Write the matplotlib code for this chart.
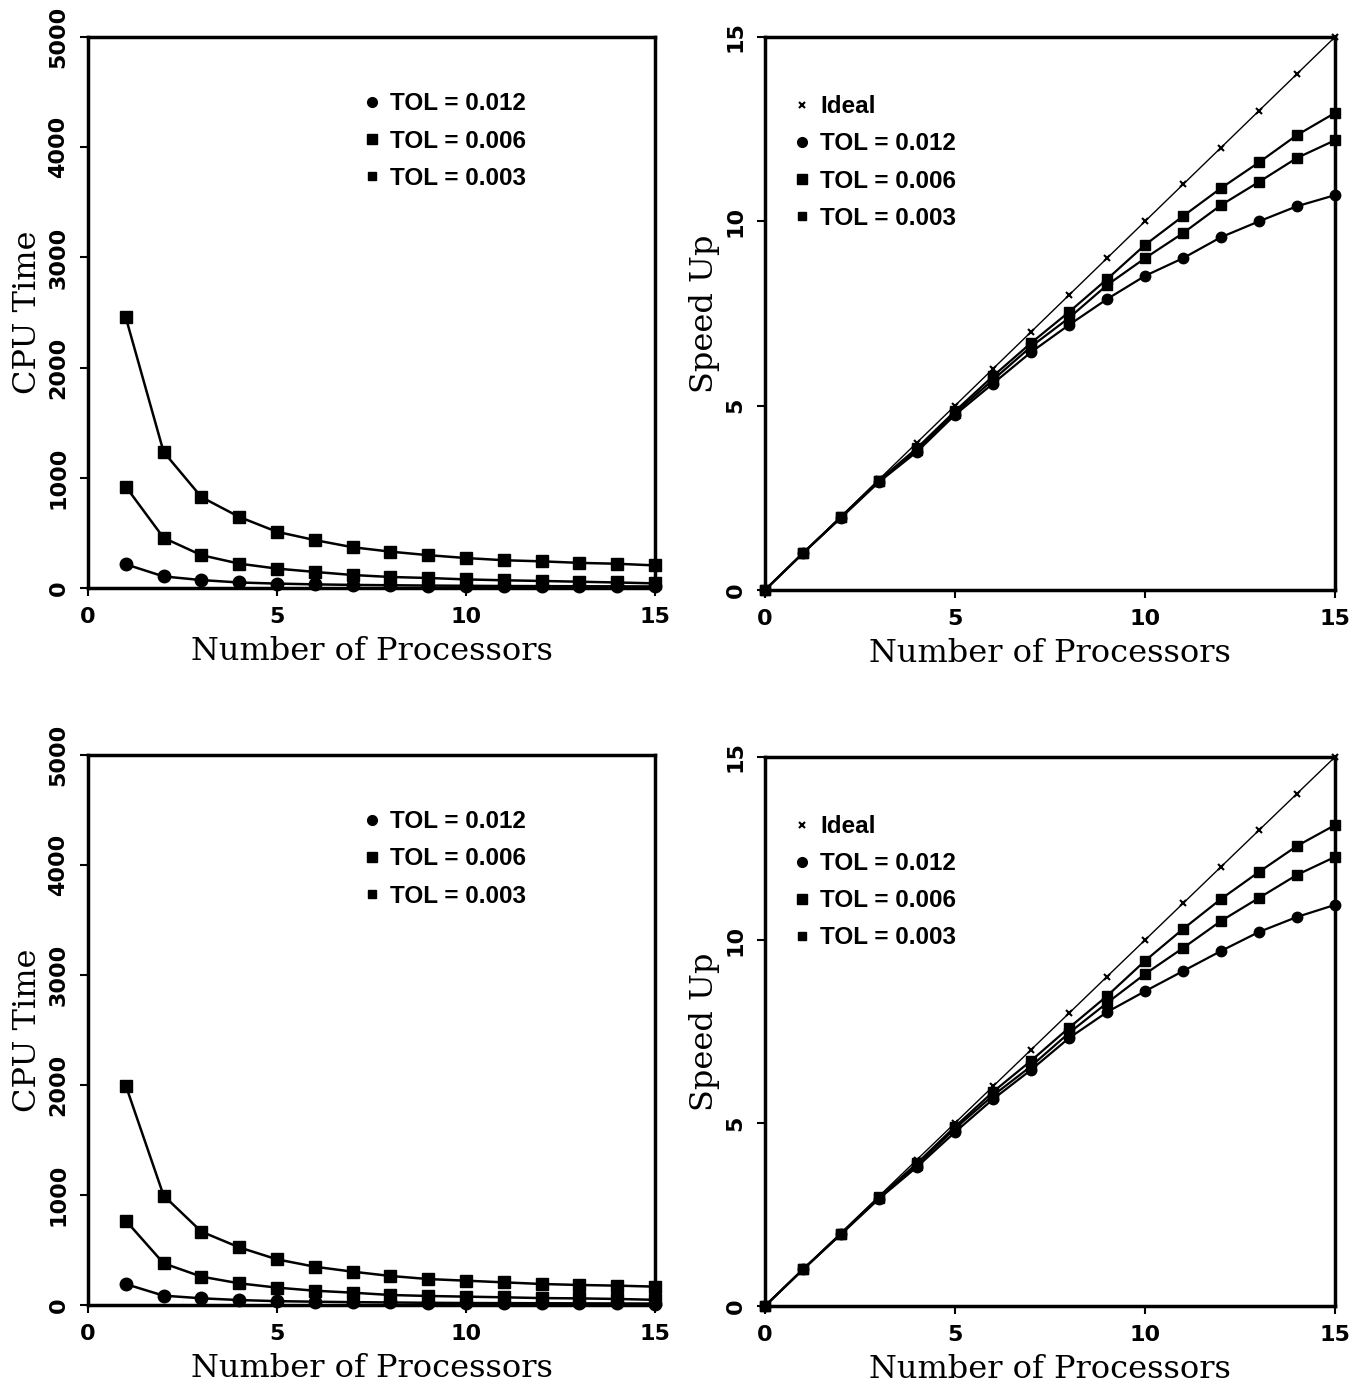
import matplotlib
matplotlib.use("Agg")
import matplotlib.pyplot as plt
from matplotlib.lines import Line2D

# ---------------- data ----------------
procs = list(range(1, 16))
procs0 = list(range(0, 16))
tol_labels = ["TOL = 0.012", "TOL = 0.006", "TOL = 0.003"]

# CPU time, top problem
cpu_top_012 = [215, 105, 72, 50, 40, 33, 28, 25, 22, 20, 18, 17, 16, 15, 14]
cpu_top_006 = [920, 455, 298, 221, 176, 146, 118, 100, 91, 78, 70, 64, 57, 50, 42]
cpu_top_003 = [2455, 1235, 825, 645, 510, 435, 370, 330, 298, 272, 252, 242, 228, 220, 205]

# CPU time, bottom problem
cpu_bot_012 = [190, 85, 61, 45, 35, 30, 26, 23, 20, 18, 17, 16, 15, 14, 13]
cpu_bot_006 = [767, 379, 258, 197, 158, 130, 112, 91, 82, 76, 70, 63, 60, 55, 47]
cpu_bot_003 = [1995, 995, 667, 524, 415, 348, 303, 264, 236, 221, 206, 191, 182, 176, 167]

# Speed up
ideal = procs0
sp_top_012 = [0, 1, 1.96, 2.93, 3.75, 4.75, 5.6, 6.45, 7.19, 7.89, 8.52, 9.0, 9.57, 10.0, 10.41, 10.71]
sp_top_006 = [0, 1, 1.97, 2.95, 3.8, 4.8, 5.7, 6.6, 7.38, 8.27, 9.0, 9.68, 10.44, 11.07, 11.72, 12.2]
sp_top_003 = [0, 1, 1.98, 2.97, 3.85, 4.85, 5.8, 6.7, 7.54, 8.43, 9.36, 10.14, 10.9, 11.6, 12.34, 12.94]

sp_bot_012 = [0, 1, 1.96, 2.93, 3.8, 4.75, 5.65, 6.45, 7.32, 8.03, 8.6, 9.15, 9.7, 10.22, 10.63, 10.96]
sp_bot_006 = [0, 1, 1.97, 2.95, 3.85, 4.85, 5.75, 6.55, 7.46, 8.28, 9.07, 9.78, 10.52, 11.15, 11.78, 12.27]
sp_bot_003 = [0, 1, 1.98, 2.97, 3.9, 4.9, 5.85, 6.7, 7.6, 8.47, 9.43, 10.3, 11.12, 11.86, 12.57, 13.14]

xticks = [0, 5, 10, 15]
cpu_yticks = [0, 1000, 2000, 3000, 4000, 5000]
sp_yticks = [0, 5, 10, 15]

# ---------------- figure ----------------
W, H = 1355, 1391
fig = plt.figure(figsize=(W / 100, H / 100), dpi=100)


def ax_px(l, r, t, b):
    return fig.add_axes([l / W, 1 - b / H, (r - l) / W, (b - t) / H])


tick_font = dict(family="DejaVu Sans", weight="bold", size=16)
label_font = dict(family="DejaVu Serif", size=23)
leg_font = dict(family="Liberation Sans", weight="bold", size=17.5)


def style(ax, ylim, yticks, ylabel):
    ax.set_xlim(0, 15)
    ax.set_ylim(*ylim)
    ax.set_xticks(xticks)
    ax.set_yticks(yticks)
    ax.set_xticklabels([str(t) for t in xticks], fontdict=tick_font)
    ax.set_yticklabels([str(t) for t in yticks], fontdict=tick_font,
                       rotation=90, va="center")
    ax.tick_params(direction="out", length=6, width=1.5, pad=8)
    for s in ax.spines.values():
        s.set_linewidth(2.5)
    ax.set_xlabel("Number of Processors", fontdict=label_font, labelpad=6)
    ax.set_ylabel(ylabel, fontdict=label_font, labelpad=4)


def cpu_panel(ax, s012, s006, s003):
    ms = 9
    ax.plot(procs, s012, "-", color="black", lw=1.8, marker="o", ms=ms, clip_on=False)
    ax.plot(procs, s006, "-", color="black", lw=1.8, marker="s", ms=ms, clip_on=False)
    ax.plot(procs, s003, "-", color="black", lw=1.8, marker="s", ms=ms, clip_on=False)
    style(ax, (0, 5000), cpu_yticks, "CPU Time")
    handles = [Line2D([], [], ls="none", marker="o", color="black", ms=7),
               Line2D([], [], ls="none", marker="s", color="black", ms=7),
               Line2D([], [], ls="none", marker="s", color="black", ms=6)]
    ax.legend(handles, tol_labels, loc="upper left", bbox_to_anchor=(0.472, 0.917),
              frameon=False, prop=leg_font, handlelength=0.55, handletextpad=0.45,
              labelspacing=0.58, borderaxespad=0)


def sp_panel(ax, s012, s006, s003):
    ms = 7.5
    ax.plot(procs0, ideal, "-", color="black", lw=1, marker="x", ms=5, mew=1.5, clip_on=False)
    ax.plot(procs0, s012, "-", color="black", lw=1.6, marker="o", ms=ms, clip_on=False)
    ax.plot(procs0, s006, "-", color="black", lw=1.6, marker="s", ms=ms, clip_on=False)
    ax.plot(procs0, s003, "-", color="black", lw=1.6, marker="s", ms=ms, clip_on=False)
    style(ax, (0, 15), sp_yticks, "Speed Up")
    handles = [Line2D([], [], ls="none", marker="x", color="black", ms=5, mew=1.5),
               Line2D([], [], ls="none", marker="o", color="black", ms=7),
               Line2D([], [], ls="none", marker="s", color="black", ms=7),
               Line2D([], [], ls="none", marker="s", color="black", ms=6)]
    ax.legend(handles, ["Ideal"] + tol_labels, loc="upper left",
              bbox_to_anchor=(0.037, 0.912), frameon=False, prop=leg_font,
              handlelength=0.55, handletextpad=0.45, labelspacing=0.58,
              borderaxespad=0)


ax1 = ax_px(88, 655, 37, 588)
cpu_panel(ax1, cpu_top_012, cpu_top_006, cpu_top_003)
ax2 = ax_px(765, 1335, 37, 590)
sp_panel(ax2, sp_top_012, sp_top_006, sp_top_003)
ax3 = ax_px(88, 655, 755, 1305)
cpu_panel(ax3, cpu_bot_012, cpu_bot_006, cpu_bot_003)
ax4 = ax_px(765, 1335, 757, 1306)
sp_panel(ax4, sp_bot_012, sp_bot_006, sp_bot_003)

fig.savefig("out.png", dpi=100, facecolor="white")
